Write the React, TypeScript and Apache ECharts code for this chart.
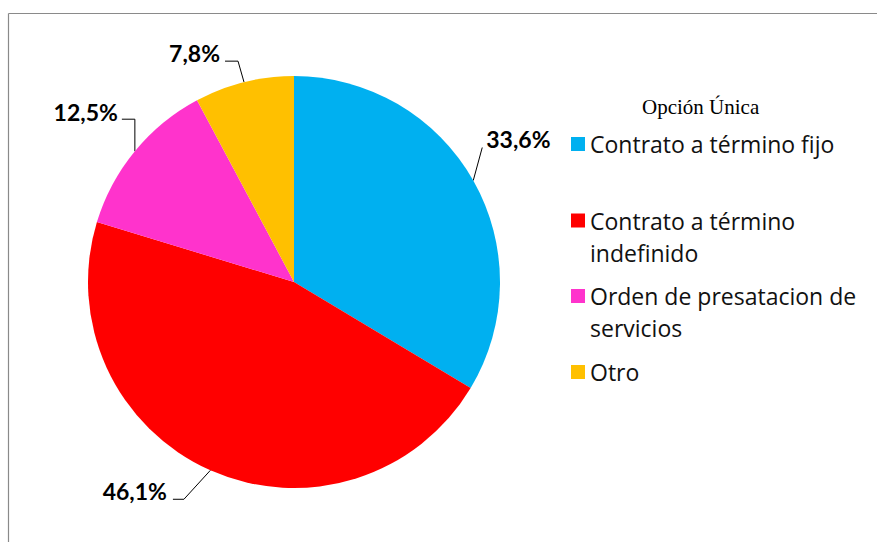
import React, { useEffect, useRef } from "react";
import * as echarts from "echarts";

const categories = [
  "Contrato a término fijo",
  "Contrato a término indefinido",
  "Orden de presatacion de servicios",
  "Otro",
];
const legendLines = [
  "Contrato a término fijo",
  "Contrato a término\nindefinido",
  "Orden de presatacion de\nservicios",
  "Otro",
];
const values = [33.6, 46.1, 12.5, 7.8];
const colors = ["#00B0F0", "#FF0000", "#FF33CC", "#FFC000"];
const legendTitle = "Opción Única";

// label layout offsets relative to the slice's outer edge point (style only)
const labelOffsets = [
  { bend: [9, -33], end: [9, -33], text: [13, -41], align: "left" },
  { bend: [-26.5, 29], end: [-37.5, 29], text: [-43.5, 21], align: "right" },
  { bend: [0, -32], end: [-13, -32], text: [-17, -39], align: "right" },
  { bend: [-6, -21], end: [-19, -21], text: [-24, -29], align: "right" },
];
const legendTops = [128, 172.5, 248, 356];

export default function App() {
  const ref = useRef<HTMLDivElement>(null);
  useEffect(() => {
    document.body.style.margin = "0";
    const chart = echarts.init(ref.current!, null, { renderer: "svg" });
    const legends = categories.map((name, i) => {
      const twoLine = legendLines[i].indexOf("\n") >= 0;
      return {
        orient: "vertical",
        left: 571,
        top: legendTops[i],
        padding: 0,
        itemWidth: 14,
        itemHeight: 14,
        icon: "rect",
        selectedMode: false,
        data: [name],
        // a blank leading line keeps the icon level with the first text line
        formatter: () => (twoLine ? "\u00a0\n" : "") + legendLines[i],
        textStyle: {
          fontFamily: "Open Sans",
          fontSize: 23,
          color: "#111",
          lineHeight: 32,
        },
      };
    });
    chart.setOption({
      animation: false,
      color: colors,
      title: {
        text: legendTitle,
        left: 642,
        top: 96,
        padding: 0,
        textStyle: {
          fontFamily: "Liberation Serif",
          fontWeight: "normal",
          fontSize: 21,
          color: "#000",
        },
      },
      legend: legends,
      graphic: [
        {
          type: "line",
          shape: { x1: 8.5, y1: 13.5, x2: 877, y2: 13.5 },
          style: { stroke: "#8a8a8a", lineWidth: 1.2 },
        },
        {
          type: "line",
          shape: { x1: 8.5, y1: 13.5, x2: 8.5, y2: 542 },
          style: { stroke: "#8a8a8a", lineWidth: 1.2 },
        },
      ],
      series: [
        {
          type: "pie",
          center: [294, 282],
          radius: 206,
          startAngle: 90,
          clockwise: true,
          data: categories.map((name, i) => ({ name, value: values[i] })),
          label: {
            show: true,
            position: "outside",
            formatter: (p: any) => p.value.toFixed(1).replace(".", ",") + "%",
            fontFamily: "Lato",
            fontWeight: "bold",
            fontSize: 23,
            color: "#000",
          },
          labelLine: {
            show: true,
            length: 20,
            length2: 10,
            lineStyle: { color: "#000", width: 1 },
          },
          labelLayout: (params: any) => {
            const o = labelOffsets[params.dataIndex];
            const p0 = params.labelLinePoints[0];
            return {
              x: p0[0] + o.text[0],
              y: p0[1] + o.text[1],
              align: o.align,
              verticalAlign: "middle",
              labelLinePoints: [
                [p0[0], p0[1]],
                [p0[0] + o.bend[0], p0[1] + o.bend[1]],
                [p0[0] + o.end[0], p0[1] + o.end[1]],
              ],
            };
          },
          emphasis: { disabled: true },
        },
      ],
    });
    return () => chart.dispose();
  }, []);
  return <div ref={ref} style={{ width: 878, height: 542 }} />;
}
